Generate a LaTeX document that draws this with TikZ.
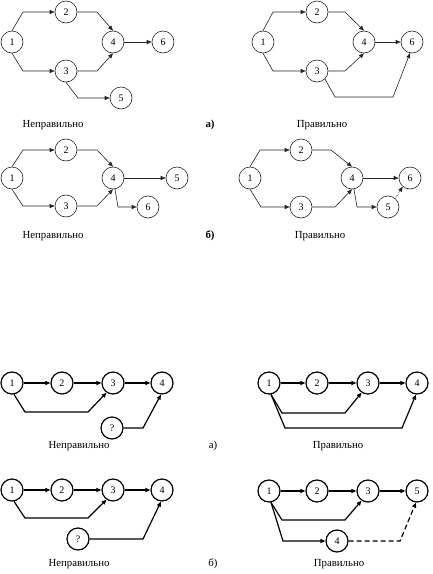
\documentclass[tikz,border=0pt]{standalone}
\usepackage{fontspec}
\setmainfont{Liberation Serif}
\usetikzlibrary{arrows.meta}
\begin{document}
\begin{tikzpicture}[x=1pt,y=-1pt,
  nd/.style={circle,draw=black!85,line width=0.6pt,minimum size=22pt,inner sep=0pt,font=\fontsize{10}{12}\selectfont},
  ndb/.style={circle,draw=black,line width=1.2pt,minimum size=22pt,inner sep=0pt,font=\fontsize{10}{12}\selectfont},
  ar/.style={draw=black!85,line width=0.6pt,-{Triangle[length=5pt,width=4pt]}},
  arb/.style={draw=black,line width=1.2pt,-{Triangle[length=5pt,width=4pt]}},
  captxt/.style={font=\fontsize{10.8}{12}\selectfont,inner sep=0pt},
  capbold/.style={font=\fontsize{10.8}{12}\selectfont\bfseries,inner sep=0pt}]
\useasboundingbox[fill=white] (0,0) rectangle (433,574);

% ---------- Panel A (top left) ----------
\node[nd] (a1) at (12,42) {1};
\node[nd] (a2) at (66,12) {2};
\node[nd] (a3) at (66,71) {3};
\node[nd] (a4) at (113,42) {4};
\node[nd] (a5) at (121,98) {5};
\node[nd] (a6) at (163,42) {6};
\draw[ar] (a1.north) -- (23,12) -- (a2.west);
\draw[ar] (a2.east) -- (97,12) -- (a4.north);
\draw[ar] (a1.south) -- (23,71) -- (a3.west);
\draw[ar] (a3.east) -- (97,71) -- (a4.south);
\draw[ar] (a4.east) -- (a6.west);
\draw[ar] (a3.south) -- (78,98) -- (a5.west);

% ---------- Panel B (top right) ----------
\node[nd] (b1) at (263,42) {1};
\node[nd] (b2) at (317,12) {2};
\node[nd] (b3) at (317,71) {3};
\node[nd] (b4) at (364,42) {4};
\node[nd] (b6) at (412,42) {6};
\draw[ar] (b1.north) -- (273,12) -- (b2.west);
\draw[ar] (b2.east) -- (345,12) -- (b4.north);
\draw[ar] (b1.south) -- (273,71) -- (b3.west);
\draw[ar] (b3.east) -- (345,71) -- (b4.south);
\draw[ar] (b4.east) -- (b6.west);
\draw[ar] (b3.-45) -- (335,97) -- (393,97) -- (b6.-100);

\node[captxt] (t1) at (53,125) {Неправильно};
\node[capbold] (t2) at (210,125) {а)};
\node[captxt] (t3) at (322,125) {Правильно};

% ---------- Panel C (middle left) ----------
\node[nd] (c1) at (12,178) {1};
\node[nd] (c2) at (66,150) {2};
\node[nd] (c3) at (66,206) {3};
\node[nd] (c4) at (113,178) {4};
\node[nd] (c5) at (177,178) {5};
\node[nd] (c6) at (148,207) {6};
\draw[ar] (c1.north) -- (23,150) -- (c2.west);
\draw[ar] (c2.east) -- (97,150) -- (c4.north);
\draw[ar] (c1.south) -- (23,206) -- (c3.west);
\draw[ar] (c3.east) -- (97,206) -- (c4.south);
\draw[ar] (c4.east) -- (c5.west);
\draw[ar] (c4.-80) -- (118,207) -- (c6.west);

% ---------- Panel D (middle right) ----------
\node[nd] (d1) at (250,178) {1};
\node[nd] (d2) at (301,150) {2};
\node[nd] (d3) at (301,207) {3};
\node[nd] (d4) at (352,178) {4};
\node[nd] (d5) at (388,207) {5};
\node[nd] (d6) at (410,178) {6};
\draw[ar] (d1.north) -- (260,150) -- (d2.west);
\draw[ar] (d2.east) -- (331,150) -- (d4.north);
\draw[ar] (d1.south) -- (261,207) -- (d3.west);
\draw[ar] (d3.east) -- (335,207) -- (d4.south);
\draw[ar] (d4.east) -- (d6.west);
\draw[ar] (d4.-80) -- (357,207) -- (d5.west);
\draw[ar,densely dotted] (d5.50) -- (d6.-130);

\node[captxt] (t4) at (53,236) {Неправильно};
\node[capbold] (t5) at (210,236) {б)};
\node[captxt] (t6) at (320,236) {Правильно};

% ---------- Panel E (bottom left a) ----------
\node[ndb] (e1) at (12,383) {1};
\node[ndb] (e2) at (62,383) {2};
\node[ndb] (e3) at (113,383) {3};
\node[ndb] (e4) at (162,383) {4};
\node[ndb] (eq) at (112,428) {?};
\draw[arb] (e1.east) -- (e2.west);
\draw[arb] (e2.east) -- (e3.west);
\draw[arb] (e3.east) -- (e4.west);
\draw[arb] (e1.-80) -- (25,412) -- (88,412) -- (e3.-124);
\draw[arb] (eq.east) -- (143,428) -- (e4.-95);

% ---------- Panel F (bottom right a) ----------
\node[ndb] (f1) at (269,383) {1};
\node[ndb] (f2) at (317,383) {2};
\node[ndb] (f3) at (368,383) {3};
\node[ndb] (f4) at (417,383) {4};
\draw[arb] (f1.east) -- (f2.west);
\draw[arb] (f2.east) -- (f3.west);
\draw[arb] (f3.east) -- (f4.west);
\draw[arb] (f1.-80) -- (282,413) -- (345,413) -- (f3.-124);
\draw[arb] (f1.-80) -- (285,428) -- (402,428) -- (f4.-95);

\node[captxt] (t7) at (79,446) {Неправильно};
\node[captxt] (t8) at (213,446) {а)};
\node[captxt] (t9) at (338,446) {Правильно};

% ---------- Panel G (bottom left b) ----------
\node[ndb] (g1) at (12,490) {1};
\node[ndb] (g2) at (62,490) {2};
\node[ndb] (g3) at (113,490) {3};
\node[ndb] (g4) at (162,490) {4};
\node[ndb] (gq) at (78,539) {?};
\draw[arb] (g1.east) -- (g2.west);
\draw[arb] (g2.east) -- (g3.west);
\draw[arb] (g3.east) -- (g4.west);
\draw[arb] (g1.-80) -- (25,518) -- (88,518) -- (g3.-124);
\draw[arb] (gq.east) -- (143,539) -- (g4.-95);

% ---------- Panel H (bottom right b) ----------
\node[ndb] (h1) at (269,491) {1};
\node[ndb] (h2) at (317,491) {2};
\node[ndb] (h3) at (368,491) {3};
\node[ndb] (h5) at (417,491) {5};
\node[ndb] (h4) at (337,541) {4};
\draw[arb] (h1.east) -- (h2.west);
\draw[arb] (h2.east) -- (h3.west);
\draw[arb] (h3.east) -- (h5.west);
\draw[arb] (h1.-80) -- (282,520) -- (345,520) -- (h3.-124);
\draw[arb] (h1.-80) -- (283,541) -- (h4.west);
\draw[arb,dashed,dash pattern=on 5pt off 3pt] (h4.east) -- (400,541) -- (h5.-95);

\node[captxt] (t10) at (79,564) {Неправильно};
\node[captxt] (t11) at (213,564) {б)};
\node[captxt] (t12) at (339,564) {Правильно};
\end{tikzpicture}
\end{document}
